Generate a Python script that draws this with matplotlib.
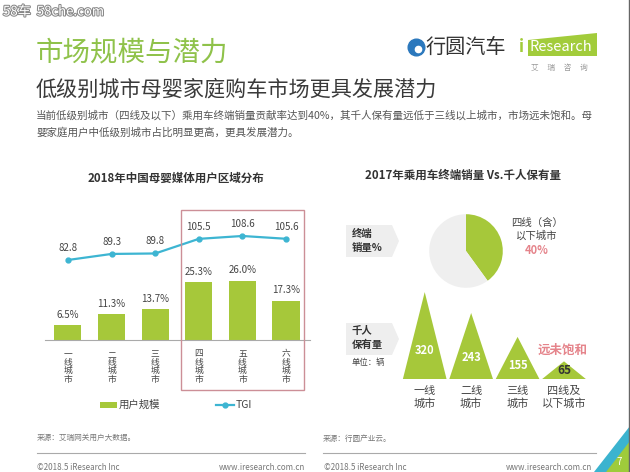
import matplotlib
matplotlib.use('Agg')
import matplotlib.pyplot as plt
import matplotlib.patheffects as pe
from matplotlib.patches import Rectangle, Polygon
from matplotlib.lines import Line2D
import numpy as np

plt.rcParams['font.family'] = ['Noto Sans CJK SC', 'DejaVu Sans']

# left chart data
cities = ['一线城市', '二线城市', '三线城市', '四线城市', '五线城市', '六线城市']
user_share = [6.5, 11.3, 13.7, 25.3, 26.0, 17.3]
tgi = [82.8, 89.3, 89.8, 105.5, 108.6, 105.6]

# right chart data
sales_share = [40, 60]
tier_labels = ['一线\n城市', '二线\n城市', '三线\n城市', '四线及\n以下城市']
per_thousand = [320, 243, 155, 65]

green = '#a6c83a'
teal = '#3db5d2'
dark = '#333333'
gray = '#555555'
pink = '#e5848b'

W, H = 630, 472
fig = plt.figure(figsize=(6.3, 4.72), dpi=100)
fig.patch.set_facecolor('white')


def pax(l, t, r, b):
    return fig.add_axes([l / W, 1 - b / H, (r - l) / W, (b - t) / H])


def ftext(x, y, s, **kw):
    return fig.text(x / W, 1 - y / H, s, **kw)


def fpoly(pts, **kw):
    p = Polygon([(x / W, 1 - y / H) for x, y in pts], closed=True,
                transform=fig.transFigure, **kw)
    fig.add_artist(p)
    return p


def fline(x0, x1, y0, y1, **kw):
    fig.add_artist(Line2D([x0 / W, x1 / W], [1 - y0 / H, 1 - y1 / H],
                          transform=fig.transFigure, **kw))


# header
ftext(3, 12, '58车  58che.com', fontsize=9.5, color='white', va='center',
      path_effects=[pe.withStroke(linewidth=1.5, foreground='#888888')])
ftext(36, 53, '市场规模与潜力', fontsize=19.8, color='#8fc24a', va='center')
ftext(36, 90, '低级别城市母婴家庭购车市场更具发展潜力', fontsize=15.2, color='#3a3a3a', va='center')
ftext(36, 115, '当前低级别城市（四线及以下）乘用车终端销量贡献率达到40%，其千人保有量远低于三线以上城市，市场远未饱和。母',
      fontsize=7.6, color=gray, va='center')
ftext(36, 133, '婴家庭用户中低级别城市占比明显更高，更具发展潜力。', fontsize=7.6, color=gray, va='center')

# logos
fig.add_artist(Line2D([416 / W], [1 - 47 / H], marker='o', ms=12, color='#2b78bd',
                      transform=fig.transFigure))
fig.add_artist(Line2D([418 / W], [1 - 49 / H], marker='o', ms=4.5, color='white',
                      transform=fig.transFigure))
ftext(425, 47, '行圆汽车', fontsize=14.5, color=dark, va='center')
fpoly([(528, 40), (597, 33), (597, 56), (528, 56)], color='#a2cc3b', lw=0)
ftext(519, 47, 'i', fontsize=12, color='#a2cc3b', va='center', fontweight='bold')
ftext(561, 47, 'Research', fontsize=10.5, color='white', va='center', ha='center')
ftext(559, 68, '艾     瑞     咨     询', fontsize=5.5, color='#999999', va='center', ha='center')

# ---------------- left chart ----------------
ftext(176, 178, '2018年中国母婴媒体用户区域分布', fontsize=8.3, fontweight='bold',
      color=dark, ha='center', va='center')

ax = pax(45, 205, 310, 340)
x = np.arange(len(cities))
ax.bar(x, user_share, width=0.62, color=green)
for i, v in zip(x, user_share):
    ax.text(i, v + 2.3, f'{v}%', ha='center', va='bottom', fontsize=7, color='#444444')
ax.set_xlim(-0.527, 5.55)
ax.set_ylim(0, 59.2)
ax.set_yticks([])
ax.set_xticks(x, ['\n'.join(c) for c in cities])
ax.tick_params(axis='x', length=0, pad=7, labelsize=6.3, labelcolor='#444444')
for lab in ax.get_xticklabels():
    lab.set_linespacing(0.9)
for s in ['top', 'left', 'right']:
    ax.spines[s].set_visible(False)
ax.spines['bottom'].set_color('#aaaaaa')
ax.patch.set_alpha(0)

ax2 = ax.twinx()
ax2.plot(x, tgi, color=teal, lw=1.6, marker='o', ms=3.5)
for i, v in zip(x, tgi):
    ax2.text(i, v + 13, f'{v}', ha='center', va='center', fontsize=7, color='#444444')
ax2.set_ylim(-3.2, 141.9)
ax2.set_yticks([])
for s in ax2.spines.values():
    s.set_visible(False)

fig.add_artist(Rectangle((181 / W, 1 - 390 / H), (304 - 181) / W, (390 - 210) / H,
                         transform=fig.transFigure, fill=False, ec='#cc8f97', lw=1))

# legend
fig.add_artist(Rectangle((100 / W, 1 - 408 / H), 17 / W, 6 / H,
                         transform=fig.transFigure, color=green, lw=0))
ftext(119, 405, '用户规模', fontsize=7.5, color='#444444', va='center')
fline(216, 234, 405, 405, color=teal, lw=1.6)
fig.add_artist(Line2D([225 / W], [1 - 405 / H], marker='o', ms=3.5, color=teal,
                      transform=fig.transFigure))
ftext(236, 405, 'TGI', fontsize=7.5, color='#444444', va='center')

ftext(37, 438, '来源：艾瑞网关用户大数据。', fontsize=5.5, color='#777777', va='center')
fline(37, 305, 453, 453, color='#aaaaaa', lw=0.8)
ftext(37, 467, '©2018.5 iResearch Inc', fontsize=5.8, color='#777777', va='center')
ftext(305, 467, 'www.iresearch.com.cn', fontsize=5.8, color='#777777', va='center', ha='right')

# ---------------- right chart ----------------
ftext(463, 175, '2017年乘用车终端销量 Vs.千人保有量', fontsize=8.3, fontweight='bold',
      color=dark, ha='center', va='center')

axp = pax(420, 205, 512, 297)
axp.pie(sales_share, colors=[green, '#efefef'], startangle=90, counterclock=False,
        wedgeprops=dict(linewidth=0))
axp.set_aspect('equal')

ftext(537, 223, '四线（含）', fontsize=7.5, color='#444444', ha='center', va='center')
ftext(537, 236, '以下城市', fontsize=7.5, color='#444444', ha='center', va='center')
ftext(537, 250, f'{sales_share[0]}%', fontsize=8, color=pink, ha='center', va='center',
      fontweight='bold')

fpoly([(346, 225), (392, 225), (399, 241), (392, 257), (346, 257)], color='#eeeeee', lw=0)
ftext(352, 234, '终端', fontsize=7.5, fontweight='bold', color=dark, va='center')
ftext(352, 248, '销量%', fontsize=7.5, fontweight='bold', color=dark, va='center')

axm = pax(395, 285, 600, 379)
for i, v in enumerate(per_thousand):
    axm.add_patch(Polygon([(i - 0.47, 0), (i, v), (i + 0.47, 0)], closed=True,
                          color=green, lw=0))
    if v > 100:
        axm.text(i, v * 0.33, str(v), ha='center', va='center', fontsize=8,
                 fontweight='bold', color='white')
    else:
        axm.text(i, 30, str(v), ha='center', va='center', fontsize=8.5,
                 fontweight='bold', color='#333333')
axm.set_xlim(-0.64, 3.775)
axm.set_ylim(0, 346)
axm.set_yticks([])
axm.set_xticks(range(len(tier_labels)), tier_labels)
axm.tick_params(axis='x', length=0, pad=5, labelsize=8, labelcolor='#444444')
for s in axm.spines.values():
    s.set_visible(False)
axm.patch.set_alpha(0)

ftext(563, 350, '远未饱和', fontsize=9, fontweight='bold', color=pink, ha='center', va='center')

fpoly([(346, 323), (392, 323), (399, 339), (392, 355), (346, 355)], color='#eeeeee', lw=0)
ftext(352, 331, '千人', fontsize=7.5, fontweight='bold', color=dark, va='center')
ftext(352, 345, '保有量', fontsize=7.5, fontweight='bold', color=dark, va='center')
ftext(352, 362, '单位：辆', fontsize=6, color='#444444', va='center')

ftext(323, 439, '来源：行圆产业云。', fontsize=5.5, color='#777777', va='center')
fline(323, 596, 453, 453, color='#aaaaaa', lw=0.8)
ftext(324, 467, '©2018.5 iResearch Inc', fontsize=5.8, color='#777777', va='center')
ftext(592, 467, 'www.iresearch.com.cn', fontsize=5.8, color='#777777', va='center', ha='right')

# page corner and right border
fpoly([(594, 472), (630, 426), (630, 472)], color='#3bb3cf', lw=0)
fpoly([(606, 472), (630, 441), (630, 472)], color='#9fcb3b', lw=0)
ftext(619, 462, '7', fontsize=7, color='white', ha='center', va='center')
fline(629, 629, 0, 472, color='#666666', lw=1)

fig.savefig('out.png', dpi=100)
